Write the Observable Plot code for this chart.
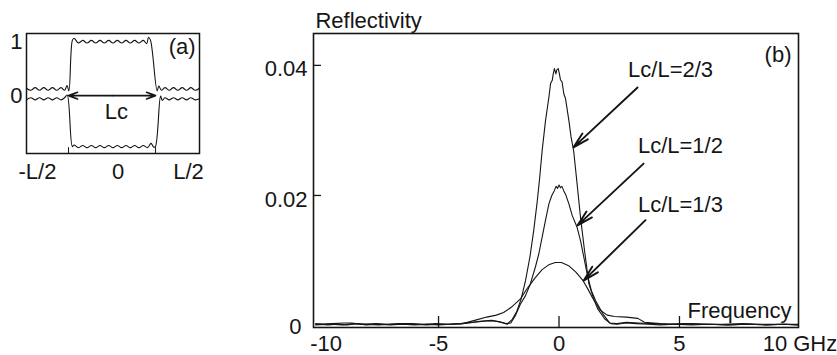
<!DOCTYPE html>
<html><head><meta charset="utf-8">
<script src="https://cdn.jsdelivr.net/npm/d3@7"></script>
<script src="https://cdn.jsdelivr.net/npm/@observablehq/plot@0.6"></script>
<style>
html,body{margin:0;padding:0;background:#fff;}
#wrap{position:relative;width:837px;height:355px;overflow:hidden;background:#fff;}
#pa{position:absolute;left:0;top:0;}
#pb{position:absolute;left:230px;top:0;}
</style></head><body><div id="wrap"><div id="pa"></div><div id="pb"></div></div>
<script>
// ---------- Panel (a): profile along the grating ----------
const aUpperX = [-0.5,-0.475,-0.45,-0.425,-0.4,-0.375,-0.35,-0.325,-0.3,-0.28,-0.265,-0.255,-0.235,-0.225,-0.2,-0.175,-0.15,-0.125,-0.1,-0.075,-0.05,-0.025,0,0.025,0.05,0.075,0.1,0.125,0.15,0.175,0.195,0.205,0.217,0.255,0.265,0.28,0.3,0.325,0.35,0.375,0.4,0.425,0.45,0.475,0.5];
const aUpperY = [0.10,0.06,0.11,0.06,0.11,0.06,0.11,0.06,0.11,0.06,0.15,0.05,1.0,1.04,0.95,1.0,0.95,1.0,0.95,1.0,0.95,1.0,0.95,1.0,0.95,1.0,0.95,1.0,0.95,1.0,0.94,1.06,1.0,0.05,0.14,0.06,0.11,0.06,0.11,0.06,0.11,0.06,0.11,0.06,0.10];
const aLowerX = [-0.5,-0.475,-0.45,-0.425,-0.4,-0.375,-0.35,-0.325,-0.3,-0.28,-0.265,-0.235,-0.225,-0.2,-0.175,-0.15,-0.125,-0.1,-0.075,-0.05,-0.025,0,0.025,0.05,0.075,0.1,0.125,0.15,0.175,0.2,0.22,0.235,0.245,0.275,0.285,0.3,0.325,0.35,0.375,0.4,0.425,0.45,0.475,0.5];
const aLowerY = [-0.12,-0.08,-0.12,-0.08,-0.12,-0.08,-0.12,-0.08,-0.12,-0.08,-0.03,-1.0,-0.97,-1.02,-0.98,-1.02,-0.98,-1.02,-0.98,-1.02,-0.98,-1.02,-0.98,-1.02,-0.98,-1.02,-0.98,-1.02,-0.98,-1.02,-0.94,-1.01,-1.0,-0.05,-0.13,-0.08,-0.12,-0.08,-0.12,-0.08,-0.12,-0.08,-0.12,-0.10];
const aXTicks = [-0.5, 0, 0.5];
const aXTickLabels = ["-L/2", "0", "L/2"];
const aYTicks = [0, 1];
const aYTickLabels = ["0", "1"];
const lcEnds = [-0.257, 0.246];   // Lc section ends (fraction of L)

// ---------- Panel (b): reflectivity spectra ----------
const freqTicks = [-10, -5, 0, 5, 10];
const freqTickLabels = ["-10", "-5", "0", "5", "10 GHz"];
const reflTicks = [0, 0.02, 0.04];
const reflTickLabels = ["0", "0.02", "0.04"];
const seriesNames = ["Lc/L=2/3", "Lc/L=1/2", "Lc/L=1/3"];

const x23 = [-10.1,-9.6,-9.2,-8.8,-8.4,-8.0,-7.5,-7.0,-6.5,-6.0,-5.5,-5.0,-4.5,-4.0,-3.5,-3.0,-2.7,-2.4,-2.15,-1.95,-1.75,-1.57,-1.39,-1.21,-1.05,-0.9,-0.8,-0.7,-0.56,-0.42,-0.35,-0.28,-0.24,-0.19,-0.13,-0.09,-0.03,0.01,0.06,0.13,0.2,0.27,0.41,0.5,0.61,0.75,0.89,1.06,1.24,1.44,1.6,1.9,2.15,2.4,2.8,3.2,3.7,4.2,4.8,5.5,6.2,7.0,7.8,8.6,9.3,9.94];
const y23 = [0.0003,0.0001,0.0002,0.0001,0.0003,0.0001,0.0002,0.0001,0.0002,0.0001,0.0002,0.0001,0.0002,0.0003,0.0005,0.0007,0.0007,0.0005,0.0002,0.0009,0.0022,0.0041,0.0069,0.0105,0.0146,0.0192,0.0228,0.0269,0.0315,0.0351,0.0372,0.0377,0.0387,0.0395,0.0387,0.0393,0.0395,0.0388,0.0378,0.0374,0.0356,0.0349,0.0315,0.0290,0.0268,0.0218,0.0167,0.0115,0.0064,0.0041,0.0026,0.0010,0.0003,0.0002,0.0004,0.0003,0.0002,0.0001,0.0002,0.0001,0.0002,0.0001,0.0002,0.0001,0.0002,0.0001];

const x12 = [-10.1,-9.4,-8.9,-8.6,-8.2,-7.6,-7.1,-6.6,-6.1,-5.6,-5.1,-4.6,-4.1,-3.6,-3.2,-2.8,-2.5,-2.2,-2.0,-1.8,-1.6,-1.39,-1.19,-0.98,-0.84,-0.7,-0.56,-0.42,-0.3,-0.2,-0.12,-0.06,0.0,0.06,0.12,0.2,0.27,0.41,0.55,0.75,0.89,1.03,1.17,1.34,1.52,1.82,2.1,2.4,2.8,3.3,3.9,4.5,5.2,6.0,6.8,7.6,8.4,9.2,9.94];
const y12 = [0.0002,0.0003,0.0004,0.0004,0.0002,0.0003,0.0002,0.0003,0.0003,0.0002,0.0003,0.0002,0.0003,0.0005,0.0007,0.0008,0.0006,0.0003,0.0004,0.0016,0.0033,0.0046,0.0064,0.0090,0.0110,0.0136,0.0162,0.0187,0.0200,0.0207,0.0214,0.0211,0.0216,0.0212,0.0214,0.0207,0.0202,0.0187,0.0169,0.0151,0.0131,0.0105,0.0079,0.0054,0.0038,0.0018,0.0004,0.0003,0.0005,0.0004,0.0003,0.0002,0.0003,0.0002,0.0002,0.0003,0.0002,0.0002,0.0002];

const x13 = [-10.1,-9.5,-9.0,-8.5,-8.0,-7.5,-7.0,-6.5,-6.0,-5.5,-5.0,-4.5,-4.0,-3.5,-3.0,-2.6,-2.3,-1.95,-1.6,-1.3,-1.0,-0.7,-0.4,-0.15,0.1,0.4,0.7,1.0,1.2,1.4,1.7,2.0,2.3,2.8,3.27,3.55,4.2,4.8,5.5,6.2,7.0,7.8,8.6,9.3,9.94];
const y13 = [0.0001,0.0002,0.0001,0.0003,0.0002,0.0001,0.0002,0.0003,0.0002,0.0001,0.0002,0.0002,0.0003,0.0008,0.0013,0.0016,0.0020,0.0029,0.0041,0.0058,0.0073,0.0086,0.0094,0.0097,0.0097,0.0092,0.0082,0.0069,0.0056,0.0042,0.0024,0.0016,0.0014,0.0013,0.0011,0.0005,0.0003,0.0002,0.0003,0.0002,0.0001,0.0002,0.0001,0.0002,0.0001];

// annotation arrows (label -> curve), in data units
const arrowStart = [[3.26, 0.0366], [3.51, 0.0249], [3.59, 0.0162]];
const arrowEnd   = [[0.60, 0.0274], [0.77, 0.0154], [1.02, 0.0069]];
const labelPos   = [[4.63, 0.0382], [5.04, 0.0265], [5.04, 0.0174]];

// ---------- helpers ----------
const zip = (xs, ys) => xs.slice(0, Math.min(xs.length, ys.length)).map((x, i) => ({x, y: ys[i]}));
const FONT = '"Liberation Sans", Arial, Helvetica, sans-serif';
const INK = "#151515";
const styleObj = {fontFamily: FONT, fontSize: "22px", color: INK, background: "transparent", overflow: "visible"};

// ---------- Panel (a) ----------
const aXDom = [-0.5, 0.5], aYDom = [-1.13, 1.13];
const plotA = Plot.plot({
  width: 230, height: 190,
  marginLeft: 26, marginRight: 31, marginTop: 33, marginBottom: 37,
  style: styleObj,
  x: {domain: aXDom, label: null},
  y: {domain: aYDom, label: null},
  marks: [
    Plot.frame({stroke: INK, strokeWidth: 1.5}),
    Plot.line(zip(aUpperX, aUpperY), {x: "x", y: "y", curve: "catmull-rom", stroke: INK, strokeWidth: 1.1}),
    Plot.line(zip(aLowerX, aLowerY), {x: "x", y: "y", curve: "catmull-rom", stroke: INK, strokeWidth: 1.1}),
    Plot.ruleX(lcEnds, {x: d => d, y1: aYDom[0], y2: -1.02, stroke: INK, strokeWidth: 1}),
    Plot.arrow([{x1: -0.005, x2: lcEnds[0]}, {x1: -0.005, x2: lcEnds[1]}],
      {x1: "x1", x2: "x2", y1: () => -0.04, y2: () => -0.04, stroke: INK, strokeWidth: 1.6, headLength: 9, headAngle: 40}),
    Plot.axisY({ticks: aYTicks, tickFormat: d => aYTickLabels[aYTicks.indexOf(d)], tickSize: 0, tickPadding: 4, fontSize: 22, dy: 2}),
    Plot.axisX({ticks: [aXTicks[0]], tickFormat: () => aXTickLabels[0], tickSize: 0, tickPadding: 10, fontSize: 22, dx: 11}),
    Plot.axisX({ticks: [aXTicks[1]], tickFormat: () => aXTickLabels[1], tickSize: 0, tickPadding: 10, fontSize: 22, dx: 5}),
    Plot.axisX({ticks: [aXTicks[2]], tickFormat: () => aXTickLabels[2], tickSize: 0, tickPadding: 10, fontSize: 22, dx: -11}),
    Plot.text(["(a)"], {x: () => 0.40, y: () => 0.87, text: d => d, fontSize: 22, fill: INK, textAnchor: "middle", lineAnchor: "middle"}),
    Plot.text(["Lc"], {x: () => 0.02, y: () => -0.34, text: d => d, fontSize: 22, fill: INK, textAnchor: "middle", lineAnchor: "middle"})
  ]
});
document.getElementById("pa").appendChild(plotA);

// ---------- Panel (b) ----------
const bXDom = [-10.19, 9.94], bYDom = [-0.0003, 0.0449];
const H = 355, MT = 33, MB = 28;
const series = [zip(x23, y23), zip(x12, y12), zip(x13, y13)];
const fmtX = d => freqTickLabels[freqTicks.indexOf(d)];
const fmtY = d => reflTickLabels[reflTicks.indexOf(d)];
const plotB = Plot.plot({
  width: 607, height: H,
  marginLeft: 83, marginRight: 39, marginTop: MT, marginBottom: MB,
  style: styleObj,
  x: {domain: bXDom, label: null},
  y: {domain: bYDom, label: null},
  marks: [
    Plot.frame({stroke: INK, strokeWidth: 1.6}),
    Plot.tickX(freqTicks.filter(d => d > bXDom[0] + 1 && d < bXDom[1] - 1), {x: d => d, insetTop: (H - MT - MB) - 11, stroke: INK, strokeWidth: 1.3}),
    Plot.ruleY(reflTicks.filter(d => d > 0), {y: d => d, x1: bXDom[0], x2: bXDom[0] + 0.33, stroke: INK, strokeWidth: 1.3}),
    ...series.map(s => Plot.line(s, {x: "x", y: "y", curve: "linear", stroke: INK, strokeWidth: 1.1})),
    Plot.axisX({ticks: freqTicks.slice(0, 1), tickFormat: fmtX, tickSize: 0, tickPadding: 8, fontSize: 22, dx: 8}),
    Plot.axisX({ticks: freqTicks.slice(1), tickFormat: fmtX, tickSize: 0, tickPadding: 8, fontSize: 22}),
    Plot.axisY({ticks: reflTicks.slice(0, 1), tickFormat: fmtY, tickSize: 0, tickPadding: 12, fontSize: 22, dy: 1}),
    Plot.axisY({ticks: reflTicks.slice(1), tickFormat: fmtY, tickSize: 0, tickPadding: 6, fontSize: 22, dy: 4}),
    Plot.arrow(arrowStart.map((s, i) => ({x1: s[0], y1: s[1], x2: arrowEnd[i][0], y2: arrowEnd[i][1]})),
      {x1: "x1", y1: "y1", x2: "x2", y2: "y2", stroke: INK, strokeWidth: 1.9, headLength: 13, headAngle: 28}),
    Plot.text(seriesNames.map((t, i) => ({t, x: labelPos[i][0], y: labelPos[i][1]})),
      {x: "x", y: "y", text: "t", fontSize: 22, fill: INK, textAnchor: "middle", lineAnchor: "bottom"}),
    Plot.text(["(b)"], {x: () => 9.65, y: () => 0.0405, text: d => d, fontSize: 22, fill: INK, textAnchor: "end", lineAnchor: "bottom"}),
    Plot.text(["Frequency"], {x: () => 9.65, y: () => 0.0012, text: d => d, fontSize: 22, fill: INK, textAnchor: "end", lineAnchor: "bottom"}),
    Plot.text(["Reflectivity"], {x: () => -10.11, y: () => 0.0458, text: d => d, fontSize: 22, fill: INK, textAnchor: "start", lineAnchor: "bottom"})
  ]
});
document.getElementById("pb").appendChild(plotB);
</script>
</body></html>
